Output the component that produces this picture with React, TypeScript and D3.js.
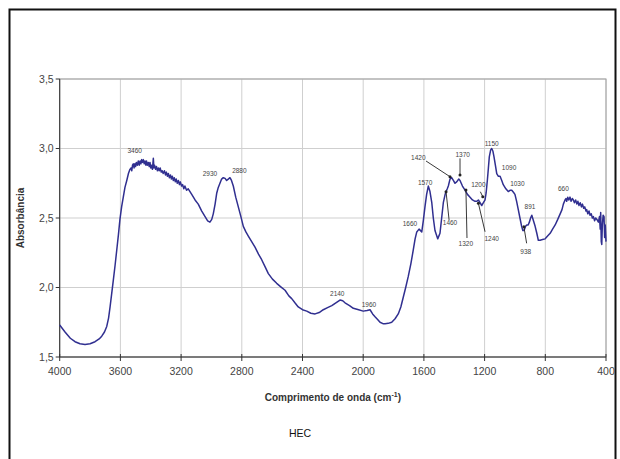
import React from "react";
import * as d3 from "d3";

// Spectrum (wavenumber cm-1, absorbance)
const wavenumbers = [
  4000, 3965, 3930, 3899, 3866, 3833, 3800, 3767, 3740, 3723,
  3705, 3690, 3678, 3668, 3658, 3647, 3635, 3624, 3613, 3603,
  3592, 3581, 3570, 3558, 3547, 3537, 3530, 3525, 3520, 3515,
  3510, 3505, 3500, 3495, 3488, 3482, 3476, 3470, 3465, 3460,
  3455, 3449, 3443, 3438, 3432, 3428, 3422, 3416, 3410, 3405,
  3400, 3395, 3389, 3383, 3379, 3375, 3368, 3362, 3356, 3350,
  3344, 3338, 3331, 3325, 3318, 3310, 3303, 3297, 3290, 3284,
  3277, 3270, 3264, 3258, 3251, 3245, 3238, 3232, 3225, 3218,
  3211, 3205, 3197, 3190, 3182, 3175, 3164, 3153, 3130, 3108,
  3087, 3064, 3042, 3025, 3010, 2998, 2988, 2976, 2965, 2955,
  2944, 2933, 2922, 2910, 2900, 2889, 2878, 2868, 2856, 2840,
  2823, 2806, 2790, 2773, 2757, 2735, 2713, 2690, 2669, 2647,
  2625, 2598, 2570, 2543, 2515, 2490, 2471, 2450, 2428, 2400,
  2372, 2345, 2317, 2290, 2263, 2235, 2207, 2180, 2153, 2135,
  2120, 2090, 2065, 2030, 2000, 1975, 1955, 1938, 1922, 1905,
  1889, 1870, 1856, 1835, 1812, 1790, 1769, 1752, 1736, 1720,
  1703, 1686, 1670, 1658, 1647, 1632, 1614, 1604, 1593, 1582,
  1571, 1560, 1548, 1538, 1527, 1509, 1494, 1483, 1472, 1460,
  1454, 1446, 1439, 1428, 1417, 1406, 1395, 1384, 1370, 1362,
  1346, 1329, 1313, 1296, 1280, 1263, 1251, 1241, 1230, 1219,
  1208, 1197, 1190, 1182, 1175, 1169, 1160, 1153, 1145, 1138,
  1129, 1120, 1109, 1098, 1087, 1077, 1060, 1044, 1030, 1021,
  1010, 1000, 989, 978, 967, 956, 948, 940, 930, 922,
  913, 905, 897, 889, 878, 867, 856, 846, 834, 818,
  801, 785, 768, 752, 735, 718, 702, 690, 681, 670,
  664, 659, 652, 645, 637, 630, 622, 615, 608, 600,
  592, 585, 578, 570, 562, 555, 547, 540, 532, 527,
  520, 512, 505, 497, 490, 483, 475, 468, 460, 450,
  443, 438, 435, 431, 428, 424, 419, 413, 409, 405,
  400,
];
const absorbance = [
  1.73, 1.68, 1.635, 1.61, 1.595, 1.59, 1.595, 1.61, 1.63, 1.65,
  1.68, 1.72, 1.78, 1.86, 1.95, 2.05, 2.16, 2.27, 2.38, 2.49,
  2.58, 2.65, 2.72, 2.77, 2.82, 2.85, 2.86, 2.84, 2.88, 2.89,
  2.86, 2.89, 2.87, 2.9, 2.88, 2.91, 2.88, 2.91, 2.89, 2.92,
  2.9, 2.92, 2.89, 2.91, 2.88, 2.91, 2.88, 2.9, 2.87, 2.9,
  2.86, 2.88, 2.85, 2.93, 2.86, 2.88, 2.85, 2.87, 2.84, 2.86,
  2.84, 2.86, 2.83, 2.84, 2.82, 2.84, 2.81, 2.83, 2.8, 2.82,
  2.79, 2.81, 2.78, 2.8, 2.77, 2.79, 2.76, 2.78, 2.75, 2.77,
  2.74, 2.76, 2.73, 2.74, 2.71, 2.73, 2.7, 2.71, 2.67, 2.63,
  2.6, 2.55, 2.51, 2.48, 2.47, 2.49, 2.53, 2.6, 2.68, 2.72,
  2.75, 2.78, 2.79, 2.785, 2.77, 2.78, 2.79, 2.77, 2.73, 2.65,
  2.58, 2.51, 2.44, 2.4, 2.37, 2.33, 2.29, 2.24, 2.2, 2.15,
  2.1, 2.06, 2.03, 2.005, 1.98, 1.94, 1.92, 1.89, 1.86, 1.84,
  1.83, 1.815, 1.81, 1.82, 1.84, 1.855, 1.87, 1.89, 1.91, 1.905,
  1.89, 1.87, 1.85, 1.84, 1.83, 1.835, 1.84, 1.81, 1.79, 1.77,
  1.75, 1.74, 1.74, 1.742, 1.75, 1.775, 1.81, 1.86, 1.93, 2.0,
  2.08, 2.17, 2.27, 2.35, 2.4, 2.42, 2.4, 2.48, 2.58, 2.67,
  2.73, 2.69, 2.61, 2.5, 2.41, 2.35, 2.39, 2.5, 2.61, 2.67,
  2.69, 2.71, 2.73, 2.78, 2.79, 2.77, 2.75, 2.76, 2.78, 2.77,
  2.73, 2.7, 2.67, 2.65, 2.63, 2.62, 2.62, 2.63, 2.61, 2.59,
  2.61, 2.63, 2.68, 2.77, 2.86, 2.94, 2.99, 3.0, 2.98, 2.94,
  2.88, 2.82, 2.8, 2.8, 2.77, 2.74, 2.71, 2.69, 2.7, 2.7,
  2.685, 2.67, 2.62, 2.56, 2.5, 2.44, 2.41, 2.41, 2.44, 2.45,
  2.45, 2.47, 2.5, 2.52, 2.48, 2.44, 2.39, 2.34, 2.34, 2.345,
  2.35, 2.37, 2.39, 2.42, 2.45, 2.49, 2.53, 2.56, 2.6, 2.63,
  2.64, 2.62, 2.65, 2.63, 2.65, 2.62, 2.64, 2.63, 2.61, 2.63,
  2.6, 2.62, 2.59, 2.61, 2.58, 2.6, 2.57, 2.58, 2.55, 2.56,
  2.53, 2.55, 2.52, 2.53, 2.5, 2.51, 2.48, 2.5, 2.49, 2.47,
  2.51, 2.42, 2.54, 2.33, 2.31, 2.45, 2.52, 2.51, 2.36, 2.45,
  2.33,
];

const xTicks = [4000, 3600, 3200, 2800, 2400, 2000, 1600, 1200, 800, 400];
const yTicks = [1.5, 2.0, 2.5, 3.0, 3.5];

// Peak labels: text and label anchor (wavenumber, absorbance)
const peakLabels = ["3460", "2930", "2880", "2140", "1960", "1660", "1570", "1420", "1460", "1370", "1320", "1200", "1240", "1150", "1090", "1030", "891", "938", "660"];
const peakLabelWn = [3506, 3010, 2816, 2171, 1962, 1692, 1592, 1637, 1428, 1344, 1324, 1241, 1153, 1153, 1039, 984, 901, 929, 681];
const peakLabelAbs = [2.984, 2.822, 2.838, 1.958, 1.879, 2.462, 2.757, 2.934, 2.466, 2.958, 2.313, 2.737, 2.349, 3.037, 2.862, 2.745, 2.581, 2.258, 2.709];

// Leader lines: from (wn1, abs1) to curve point (wn2, abs2)
const leaderFromWn = [1586, 1362, 1434, 1316, 1197, 1228, 923];
const leaderFromAbs = [2.91, 2.929, 2.486, 2.356, 2.401, 2.689, 2.318];
const leaderToWn = [1428, 1362, 1454, 1323, 1241, 1212, 941];
const leaderToAbs = [2.797, 2.809, 2.689, 2.701, 2.606, 2.653, 2.437];

const W = 620;
const H = 459;
const FONT = "'Liberation Sans', Arial, sans-serif";

export default function App() {
  const x = d3.scaleLinear().domain([4000, 400]).range([59.7, 606]);
  const y = d3.scaleLinear().domain([1.5, 3.5]).range([357, 79]);
  const pts = wavenumbers.map((w, i) => [w, absorbance[i]] as [number, number]);
  const line = d3
    .line<[number, number]>()
    .x((d) => x(d[0]))
    .y((d) => y(d[1]))
    .curve(d3.curveLinear);

  const [x0, x1] = x.range();
  const [yb, yt] = y.range();

  return (
    <svg
      width={W}
      height={H}
      style={{ position: "absolute", left: 0, top: 0, background: "#fff" }}
      fontFamily={FONT}
    >
      <rect x={0} y={0} width={W} height={H} fill="#fff" />
      <rect x={9.5} y={9.5} width={606} height={470} fill="none" stroke="#111" strokeWidth={2} />

      {/* grid */}
      {xTicks.map((t) => (
        <line key={"gx" + t} x1={x(t)} x2={x(t)} y1={yt} y2={yb} stroke="#cfcfcf" strokeWidth={1} />
      ))}
      {yTicks.map((t) => (
        <line key={"gy" + t} x1={x0} x2={x1} y1={y(t)} y2={y(t)} stroke="#cfcfcf" strokeWidth={1} />
      ))}
      <rect x={x0} y={yt} width={x1 - x0} height={yb - yt} fill="none" stroke="#a0a0a0" strokeWidth={1} />

      {/* axes */}
      <line x1={x0} x2={x0} y1={yt} y2={yb} stroke="#333" strokeWidth={1} />
      <line x1={x0} x2={x1} y1={yb} y2={yb} stroke="#333" strokeWidth={1} />
      {yTicks.map((t) => (
        <g key={"yt" + t}>
          <line x1={x0 - 4} x2={x0} y1={y(t)} y2={y(t)} stroke="#333" />
          <text x={x0 - 6} y={y(t)} dy="0.35em" textAnchor="end" fontSize={10.5} fill="#444">
            {d3.format(".1f")(t).replace(".", ",")}
          </text>
        </g>
      ))}
      {xTicks.map((t) => (
        <g key={"xt" + t}>
          <line x1={x(t)} x2={x(t)} y1={yb - 3} y2={yb + 4} stroke="#333" />
          <text x={x(t)} y={yb + 18} textAnchor="middle" fontSize={10.5} fill="#444">
            {t}
          </text>
        </g>
      ))}

      {/* axis titles */}
      <text
        transform={`translate(24, ${(yt + yb) / 2}) rotate(-90)`}
        textAnchor="middle"
        fontSize={10}
        fontWeight="bold"
        fill="#333"
      >
        Absorbância
      </text>
      <text x={(x0 + x1) / 2} y={401} textAnchor="middle" fontSize={10} fontWeight="bold" fill="#333">
        Comprimento de onda (cm
        <tspan dy={-4} fontSize={7}>-1</tspan>
        <tspan dy={4}>)</tspan>
      </text>
      <text x={300} y={437} textAnchor="middle" fontSize={10.5} fill="#111">
        HEC
      </text>

      {/* spectrum */}
      <path d={line(pts) || ""} fill="none" stroke="#302f90" strokeWidth={1.5} strokeLinejoin="round" />

      {/* leaders */}
      {leaderFromWn.map((w, i) => (
        <g key={"ld" + i}>
          <line
            x1={x(w)}
            y1={y(leaderFromAbs[i])}
            x2={x(leaderToWn[i])}
            y2={y(leaderToAbs[i])}
            stroke="#222"
            strokeWidth={0.9}
          />
          <circle cx={x(leaderToWn[i])} cy={y(leaderToAbs[i])} r={1.5} fill="#222" />
        </g>
      ))}

      {/* peak labels */}
      {peakLabels.map((lab, i) => (
        <text
          key={"pl" + i}
          x={x(peakLabelWn[i])}
          y={y(peakLabelAbs[i])}
          dy="0.35em"
          textAnchor="middle"
          fontSize={6.5}
          fill="#444"
        >
          {lab}
        </text>
      ))}
    </svg>
  );
}
